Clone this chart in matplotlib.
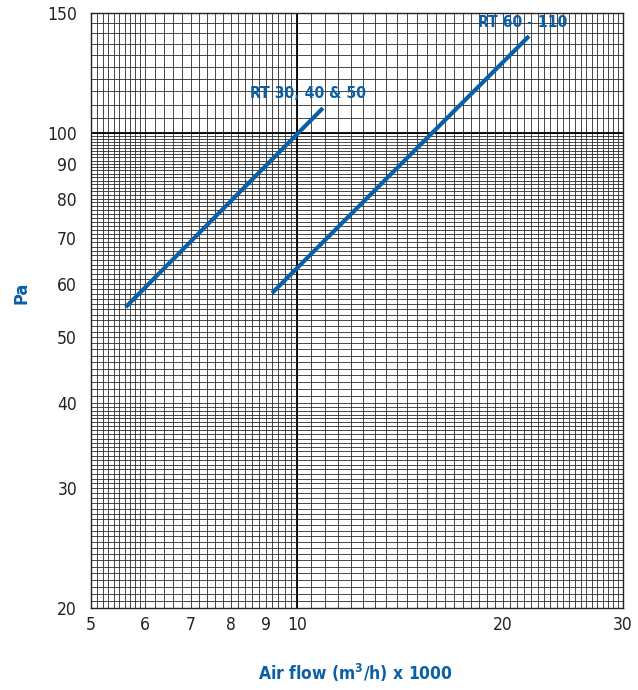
import matplotlib
matplotlib.use('Agg')
import matplotlib.pyplot as plt
import numpy as np
from matplotlib import font_manager

# narrow look: DejaVu Sans Condensed if it is installed, else Liberation Sans
path = font_manager.findfont(font_manager.FontProperties(family='DejaVu Sans', stretch='condensed'))
if 'Condensed' in path:
    FAMILY, STRETCH = 'DejaVu Sans', 'condensed'
else:
    FAMILY, STRETCH = 'Liberation Sans', 'normal'
plt.rcParams['font.family'] = [FAMILY, 'DejaVu Sans']
plt.rcParams['font.stretch'] = STRETCH

BLUE = '#0b5fa5'

# data
rt30_x = [5.62, 10.92]
rt30_y = [55.4, 108.7]
rt60_x = [9.2, 21.86]
rt60_y = [58.1, 138.7]

x_ticks = [5, 6, 7, 8, 9, 10, 20, 30]
y_ticks = [20, 30, 40, 50, 60, 70, 80, 90, 100, 150]

# grid lines
x_grid = np.concatenate([np.arange(5.0, 6.0, 0.1), np.arange(6.0, 10.0, 0.2),
                         np.arange(10.0, 30.01, 0.5)])
y_grid = np.concatenate([np.arange(20.0, 40.0, 0.5), np.arange(40.0, 100.0, 1.0),
                         np.arange(100.0, 150.01, 5.0)])

fig = plt.figure(figsize=(6.38, 6.9), dpi=100)
ax = fig.add_axes([0.1426, 0.1188, 0.9765 - 0.1426, 0.9812 - 0.1188])
ax.set_xscale('log')
ax.set_yscale('log')
ax.set_xlim(5, 30)
ax.set_ylim(20, 150)

for gx in x_grid:
    ax.axvline(gx, color='#2a2a2a', lw=0.6, zorder=1)
for gy in y_grid:
    ax.axhline(gy, color='#2a2a2a', lw=0.6, zorder=1)
ax.axvline(10, color='black', lw=1.3, zorder=1)
ax.axhline(100, color='black', lw=1.3, zorder=1)

ax.plot(rt30_x, rt30_y, color=BLUE, lw=3.0, solid_capstyle='butt', zorder=3)
ax.plot(rt60_x, rt60_y, color=BLUE, lw=3.0, solid_capstyle='butt', zorder=3)

ax.text(8.54, 114.2, 'RT 30, 40 & 50', color=BLUE, fontsize=11.3, fontweight='bold',
        ha='left', va='center', zorder=4)
ax.text(18.4, 145.4, 'RT 60 - 110', color=BLUE, fontsize=11.3, fontweight='bold',
        ha='left', va='center', zorder=4)

ax.xaxis.set_minor_locator(matplotlib.ticker.NullLocator())
ax.yaxis.set_minor_locator(matplotlib.ticker.NullLocator())
ax.set_xticks(x_ticks)
ax.set_xticklabels([str(t) for t in x_ticks])
ax.set_yticks(y_ticks)
ax.set_yticklabels([str(t) for t in y_ticks])
ax.tick_params(length=0, labelsize=12.5, colors='#222222')
ax.tick_params(axis='x', pad=6)
ax.tick_params(axis='y', pad=10)

for s in ax.spines.values():
    s.set_color('#222222')
    s.set_linewidth(1.0)

fig.text(355 / 638, 1 - 673 / 690, 'Air flow (m$^\\mathbf{3}$/h) x 1000', color=BLUE,
         fontsize=12.5, fontweight='bold', ha='center', va='center')
fig.text(22 / 638, 1 - 293 / 690, 'Pa', color=BLUE, fontsize=13, fontweight='bold',
         rotation=90, ha='center', va='center')

fig.savefig('out.png', dpi=100)
